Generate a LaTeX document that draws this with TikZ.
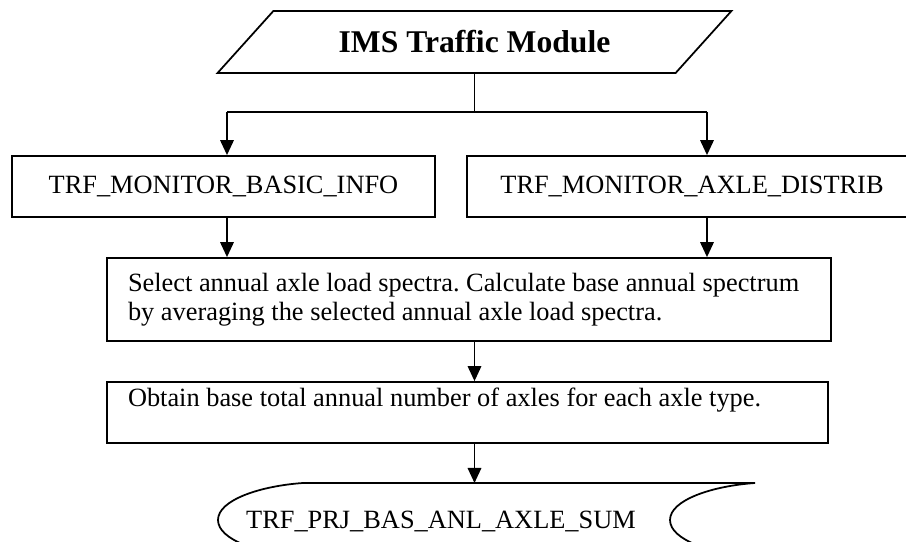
\documentclass[tikz,border=0pt]{standalone}
\usepackage{fontspec}
\setmainfont{Liberation Serif}
\usetikzlibrary{arrows.meta,shapes.geometric}
\newcommand{\plainspaces}{\spaceskip 0pt\relax}
\tikzset{
  link/.style={line width=1pt},
  arr/.style={link,-{Triangle[length=3mm,width=2.7mm]}},
  box/.style={draw,line width=1pt,inner sep=0pt,minimum height=1.22cm,font=\fontsize{15}{16.5}\selectfont\frenchspacing},
  notebox/.style={box,align=left,inner xsep=.42cm,execute at begin node=\plainspaces},
  titlebox/.style={draw,line width=1pt,trapezium,trapezium left angle=31,trapezium right angle=149,
    trapezium stretches=true,minimum width=10.3cm,minimum height=1.24cm,inner sep=0pt,
    font=\fontsize{18}{20}\selectfont\bfseries}
}

\begin{document}
\begin{tikzpicture}
\useasboundingbox (0,0) rectangle (18.12,10.82);
\clip (0,0) rectangle (18.12,10.82);
% source and monitor tables
\node[titlebox] (title) at (9.49,9.98) {IMS Traffic Module};
\node[box,minimum width=8.46cm] (basic) at (4.47,7.09) {TRF\_MONITOR\_BASIC\_INFO};
\node[box,minimum width=9cm] (axle) at (13.84,7.09) {TRF\_MONITOR\_AXLE\_DISTRIB};
\coordinate (lsplit) at (4.54,8.58);\coordinate (rsplit) at (14.14,8.58);
% processing steps
\node[notebox,text width=13.64cm,minimum height=1.66cm] (select) at (9.38,4.83)
  {Select annual axle load spectra. Calculate base annual spectrum\\by averaging the selected annual axle load spectra.};
\node[notebox,text width=13.58cm,text height=.5cm,text depth=.72cm] (obtain) at (9.35,2.57)
  {Obtain base total annual number of axles for each axle type.};
% output table
\draw[link] (6.06,1.16) -- (15.10,1.16) .. controls (14.24,1.10) and (13.40,.82) .. (13.40,.42)
  .. controls (13.40,.02) and (14.24,-.26) .. (15.10,-.32) -- (6.06,-.32)
  .. controls (5.20,-.26) and (4.36,.02) .. (4.36,.42) .. controls (4.36,.82) and (5.20,1.10) .. (6.06,1.16) -- cycle;
\node[font=\fontsize{15}{16.5}\selectfont] (store) at (8.82,.40) {TRF\_PRJ\_BAS\_ANL\_AXLE\_SUM};
\coordinate (storetop) at (9.49,1.16);
% connectors
\draw[link] (title.south) -- (title.south |- lsplit);
\draw[link] (lsplit) -- (rsplit);
\draw[arr] (lsplit) -- (lsplit |- basic.north);
\draw[arr] (rsplit) -- (rsplit |- axle.north);
\draw[arr] (lsplit |- basic.south) -- (lsplit |- select.north);
\draw[arr] (rsplit |- axle.south) -- (rsplit |- select.north);
\draw[arr] (select.south -| storetop) -- (storetop |- obtain.north);
\draw[arr] (obtain.south -| storetop) -- (storetop);
\end{tikzpicture}
\end{document}
